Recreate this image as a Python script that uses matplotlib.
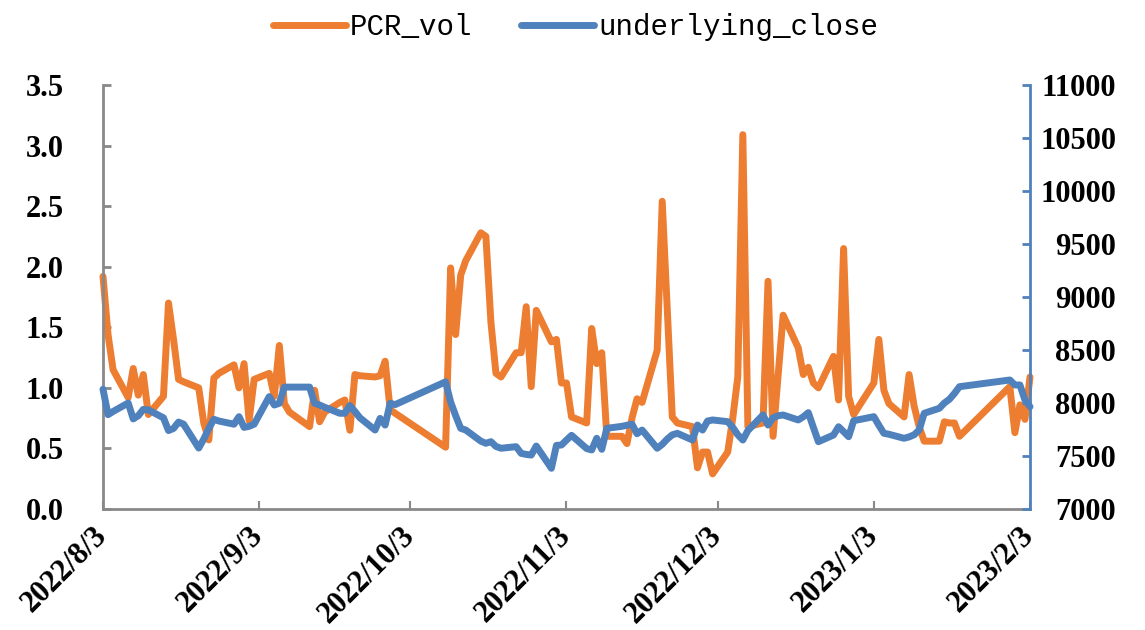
import matplotlib
matplotlib.use('Agg')
import matplotlib.pyplot as plt
import pandas as pd

plt.rcParams['font.family'] = ['Liberation Serif', 'DejaVu Serif']
plt.rcParams['font.weight'] = 'bold'
plt.rcParams['font.size'] = 22

# ---- data ----
holidays = ['2022-09-12', '2022-10-03', '2022-10-04', '2022-10-05', '2022-10-06',
            '2022-10-07', '2023-01-02', '2023-01-23', '2023-01-24', '2023-01-25',
            '2023-01-26', '2023-01-27']
dates = pd.bdate_range('2022-08-03', '2023-02-03')
dates = dates[~dates.isin(pd.to_datetime(holidays))]

pcr_vol = [
    # Aug
    1.92, 1.44, 1.15, 0.92, 1.16, 0.94, 1.11, 0.78, 0.93, 1.70, 1.40, 1.07, 1.05,
    1.00, 0.71, 0.57, 1.08, 1.12, 1.19, 1.00, 1.20,
    # Sep
    0.73, 1.07, 1.12, 0.93, 1.35, 0.87, 0.80, 0.68, 0.98, 0.72, 0.80, 0.88, 0.90,
    0.65, 1.11, 1.10, 1.09, 1.10, 1.22, 0.82, 0.79,
    # Oct
    0.51, 1.99, 1.44, 1.93, 2.05, 2.28, 2.25, 1.54, 1.12, 1.09, 1.29, 1.29, 1.67,
    1.01, 1.64, 1.38,
    # Nov
    1.40, 1.04, 1.04, 0.76, 0.71, 1.49, 1.20, 1.29, 0.60, 0.60, 0.54, 0.75, 0.91,
    0.88, 1.31, 2.54, 1.65, 0.76, 0.71, 0.68, 0.34, 0.47,
    # Dec
    0.47, 0.29, 0.47, 0.75, 1.09, 3.09, 0.68, 0.71, 1.88, 0.60, 1.10, 1.60, 1.33,
    1.11, 1.17, 1.04, 1.00, 1.26, 0.90, 2.15, 0.93, 0.78,
    # Jan
    1.04, 1.40, 0.98, 0.87, 0.76, 1.11, 0.85, 0.68, 0.56, 0.56, 0.72, 0.71, 0.71,
    0.60, 1.01, 0.63,
    # Feb
    0.86, 0.74, 1.09,
]

underlying_close = [
    # Aug
    8130, 7890, 7920, 8000, 7850, 7880, 7940, 7935, 7860, 7740, 7760, 7820, 7800,
    7575, 7660, 7760, 7846, 7830, 7800, 7871, 7770,
    # Sep
    7780, 7800, 8060, 7981, 7997, 8150, 8150, 8150, 7997, 7981, 7960, 7903, 7903,
    7975, 7920, 7860, 7745, 7855, 7792, 7997, 7985,
    # Oct
    8200, 8010, 7880, 7761, 7745, 7640, 7620, 7635, 7590, 7573, 7588, 7525, 7515,
    7509, 7594, 7384,
    # Nov
    7600, 7604, 7650, 7695, 7570, 7557, 7667, 7563, 7761, 7780, 7790, 7800, 7710,
    7745, 7573, 7610, 7660, 7700, 7714, 7651, 7792, 7745,
    # Dec
    7830, 7840, 7824, 7770, 7700, 7651, 7740, 7887, 7792, 7860, 7880, 7887, 7840,
    7870, 7909, 7770, 7635, 7698, 7776, 7730, 7682, 7833,
    # Jan
    7871, 7790, 7714, 7705, 7667, 7680, 7700, 7745, 7903, 7950, 8000, 8035, 8090,
    8154, 8217, 8170,
    # Feb
    8170, 8028, 7965,
]

tick_dates = ['2022-08-03', '2022-09-03', '2022-10-03', '2022-11-03',
              '2022-12-03', '2023-01-03', '2023-02-03']
tick_labels = ['2022/8/3', '2022/9/3', '2022/10/3', '2022/11/3',
               '2022/12/3', '2023/1/3', '2023/2/3']
left_ticks = [0.0, 0.5, 1.0, 1.5, 2.0, 2.5, 3.0, 3.5]
right_ticks = [7000, 7500, 8000, 8500, 9000, 9500, 10000, 10500, 11000]

ORANGE = '#ED7D31'
BLUE = '#4F81BD'
GRAY = '#898989'

fig = plt.figure(figsize=(11.45, 6.3), dpi=100)
ax = fig.add_axes([103 / 1145, 1 - 509 / 630, 927 / 1145, 424 / 630])
ax2 = ax.twinx()

l1, = ax.plot(dates, pcr_vol, color=ORANGE, lw=5, solid_joinstyle='round',
              solid_capstyle='round', clip_on=False, label='PCR_vol')
l2, = ax2.plot(dates, underlying_close, color=BLUE, lw=5, solid_joinstyle='round',
               solid_capstyle='round', clip_on=False, label='underlying_close')

ax.set_xlim(pd.Timestamp('2022-08-03'), pd.Timestamp('2023-02-03'))
ax.set_ylim(0, 3.5)
ax2.set_ylim(7000, 11000)

ax.set_yticks(left_ticks)
ax.set_yticklabels([f'{v:.1f}' for v in left_ticks])
ax2.set_yticks(right_ticks)
ax2.set_yticklabels([str(v) for v in right_ticks])
ax.set_xticks(pd.to_datetime(tick_dates))
ax.set_xticklabels(tick_labels, rotation=45, ha='right', va='center',
                   rotation_mode='anchor')

for s in ['top', 'right']:
    ax.spines[s].set_visible(False)
for s in ['top', 'left', 'bottom']:
    ax2.spines[s].set_visible(False)
ax.spines['left'].set_color(GRAY)
ax.spines['left'].set_linewidth(2)
ax.spines['bottom'].set_color(GRAY)
ax.spines['bottom'].set_linewidth(2)
ax2.spines['right'].set_color(BLUE)
ax2.spines['right'].set_linewidth(2)

ax.tick_params(axis='y', direction='in', length=6, width=2, color=GRAY, pad=28)
ax.tick_params(axis='x', direction='in', length=6, width=1.5, color=GRAY, pad=16)
ax2.tick_params(axis='y', direction='in', length=6, width=2, color=BLUE, pad=62)
for lbl in ax2.get_yticklabels():
    lbl.set_horizontalalignment('right')

fig.legend([l1, l2], ['PCR_vol', 'underlying_close'], loc='center',
           bbox_to_anchor=(0.5026, 0.957), ncol=2, frameon=False,
           prop={'family': 'Liberation Mono', 'weight': 'normal', 'size': 21},
           handlelength=2.5, handletextpad=0.15, columnspacing=1.65)

fig.savefig('out.png', dpi=100)
